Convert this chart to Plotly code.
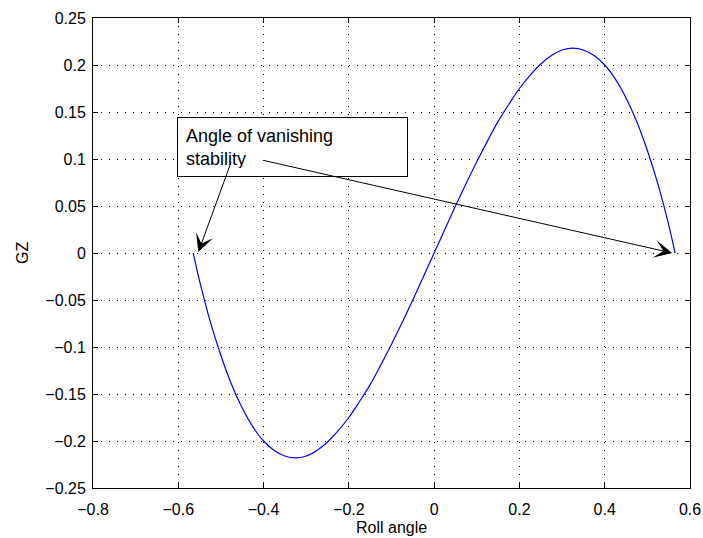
import plotly.graph_objects as go

# Roll angle (rad) and righting lever GZ
roll = [-0.565, -0.55, -0.525, -0.5, -0.475, -0.45, -0.425, -0.4, -0.375, -0.35,
        -0.325, -0.3, -0.275, -0.25, -0.225, -0.2, -0.175, -0.15, -0.125, -0.1,
        -0.075, -0.05, -0.025, 0.0, 0.025, 0.05, 0.075, 0.1, 0.125, 0.15, 0.175,
        0.2, 0.225, 0.25, 0.275, 0.3, 0.325, 0.35, 0.375, 0.4, 0.425, 0.45, 0.475,
        0.5, 0.525, 0.55, 0.565]
gz = [0.0, -0.030, -0.073, -0.109, -0.140, -0.165, -0.185, -0.200, -0.210, -0.216,
      -0.218, -0.216, -0.210, -0.201, -0.189, -0.175, -0.158, -0.140, -0.119, -0.097,
      -0.074, -0.050, -0.025, 0.0, 0.025, 0.050, 0.074, 0.097, 0.119, 0.140, 0.158,
      0.175, 0.189, 0.201, 0.210, 0.216, 0.218, 0.216, 0.210, 0.200, 0.185, 0.165, 0.140,
      0.109, 0.073, 0.030, 0.0]

x_ticks = [-0.8, -0.6, -0.4, -0.2, 0, 0.2, 0.4, 0.6]
x_labels = ["\u22120.8", "\u22120.6", "\u22120.4", "\u22120.2", "0", "0.2", "0.4", "0.6"]
y_ticks = [-0.25, -0.2, -0.15, -0.1, -0.05, 0, 0.05, 0.1, 0.15, 0.2, 0.25]
y_labels = ["\u22120.25", "\u22120.2", "\u22120.15", "\u22120.1", "\u22120.05", "0",
            "0.05", "0.1", "0.15", "0.2", "0.25"]

annot_text = "Angle of vanishing<br>stability"
x_label = "Roll angle"
y_label = "GZ"

FONT = "Liberation Sans, Arial, Helvetica, sans-serif"

fig = go.Figure()
fig.add_trace(go.Scatter(x=roll, y=gz, mode="lines", line=dict(color="#0000ff", width=1.2, shape="spline"),
                         showlegend=False, hoverinfo="skip"))

axis_common = dict(showline=True, linecolor="black", linewidth=1, mirror="ticks",
                   ticks="inside", ticklen=5, tickcolor="black", tickwidth=1,
                   showgrid=True, gridcolor="black", gridwidth=1, griddash="1px,7px",
                   zeroline=False, automargin=False,
                   tickfont=dict(family=FONT, size=16, color="black"))

fig.update_xaxes(range=[-0.8, 0.6], tickvals=x_ticks, ticktext=x_labels, ticklabelstandoff=7,
                 **axis_common)
fig.update_yaxes(range=[-0.25, 0.25], tickvals=y_ticks, ticktext=y_labels, ticklabelstandoff=3,
                 **axis_common)

# axis titles
fig.add_annotation(x=0.5, y=0, xref="paper", yref="paper", text=x_label, showarrow=False,
                   xanchor="center", yanchor="middle", yshift=-39,
                   font=dict(family=FONT, size=16, color="black"))
fig.add_annotation(x=0, y=0.5, xref="paper", yref="paper", text=y_label, showarrow=False,
                   xanchor="center", yanchor="middle", xshift=-71, textangle=-90,
                   font=dict(family=FONT, size=16, color="black"))

# text box
fig.add_annotation(x=-0.332, y=0.1128, xref="x", yref="y", text=annot_text, showarrow=False,
                   xanchor="center", yanchor="middle", align="left", valign="top",
                   width=213, height=42, borderpad=8, bordercolor="black", borderwidth=1,
                   bgcolor="white", font=dict(family=FONT, size=18, color="black"))

# arrows
fig.add_annotation(x=-0.553, y=0.001, ax=-0.475, ay=0.098, xref="x", yref="y", axref="x", ayref="y",
                   text="", showarrow=True, arrowhead=3, arrowsize=3, arrowwidth=1, arrowcolor="black")
fig.add_annotation(x=0.558, y=0.0, ax=-0.405, ay=0.099, xref="x", yref="y", axref="x", ayref="y",
                   text="", showarrow=True, arrowhead=3, arrowsize=3, arrowwidth=1, arrowcolor="black")

fig.update_layout(width=703, height=538, margin=dict(l=93, r=13, t=18, b=50),
                  plot_bgcolor="white", paper_bgcolor="white",
                  font=dict(family=FONT, size=16, color="black"))

fig.write_html("out.html")
